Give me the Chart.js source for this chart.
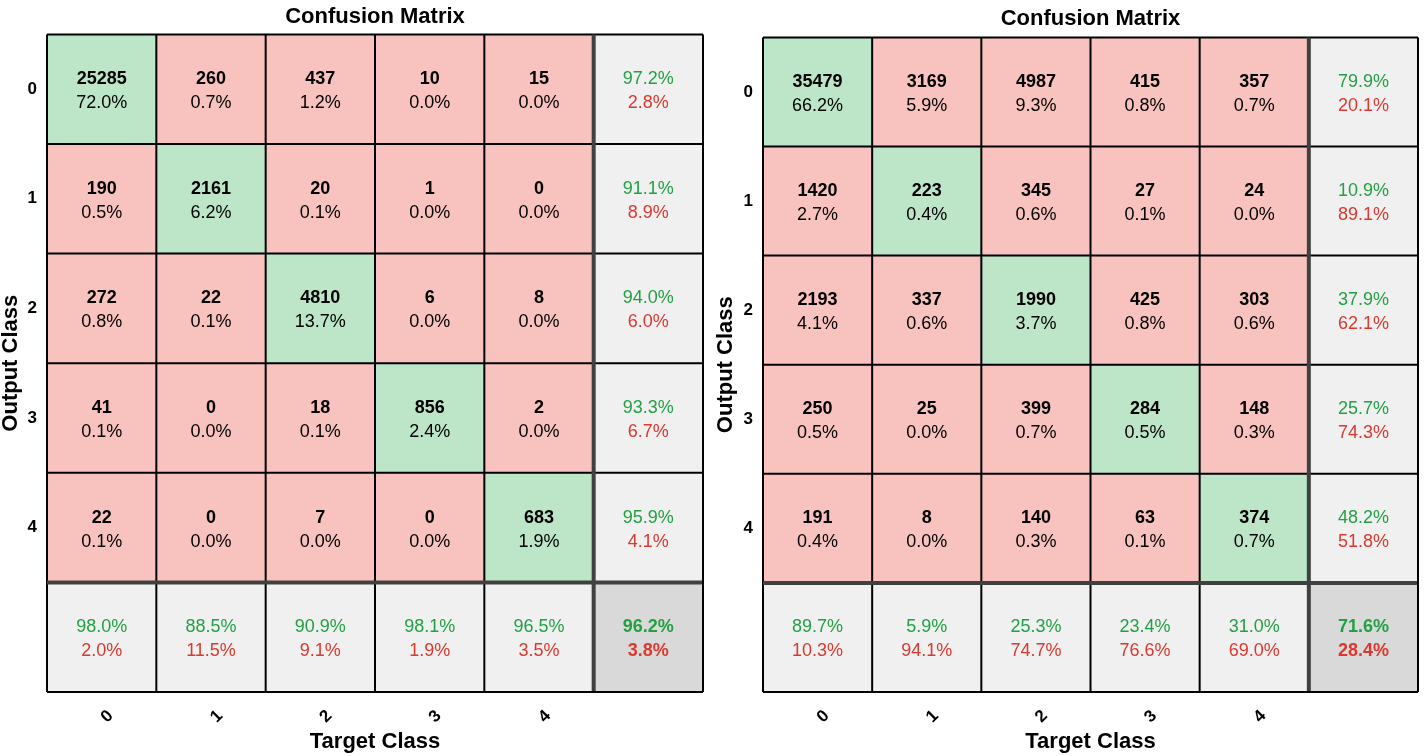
<!DOCTYPE html>
<html>
<head>
<meta charset="utf-8">
<script src="https://cdn.jsdelivr.net/npm/chart.js@4/dist/chart.umd.min.js"></script>
<style>
  body { margin: 0; background: #fff; }
  canvas { position: absolute; top: 0; }
  #left { left: 0; }
  #right { left: 712px; }
</style>
</head>
<body>
<canvas id="left" width="712" height="756"></canvas>
<canvas id="right" width="712" height="756"></canvas>
<script>
'use strict';

// Class names (rows = output class, columns = target class)
var classes = ['0', '1', '2', '3', '4'];

// Counts read from the two matrices:
var leftCounts = [
    [25285, 260, 437, 10, 15],
    [190, 2161, 20, 1, 0],
    [272, 22, 4810, 6, 8],
    [41, 0, 18, 856, 2],
    [22, 0, 7, 0, 683]
];
var rightCounts = [
    [35479, 3169, 4987, 415, 357],
    [1420, 223, 345, 27, 24],
    [2193, 337, 1990, 425, 303],
    [250, 25, 399, 284, 148],
    [191, 8, 140, 63, 374]
];

var FONT = "'Liberation Sans', Arial, sans-serif";
var GREEN_CELL = '#bde5c8';
var RED_CELL = '#f8c3be';
var GRAY_CELL = '#f0f0f0';
var TOTAL_CELL = '#d9d9d9';
var GREEN_TEXT = '#23a043';
var RED_TEXT = '#d9392f';

// Helper to format a fraction as a percent string:
var pct = function pct(a, b) {
    return (a / b * 100).toFixed(1) + '%';
};

// Builds the text shown in each cell (6x6 incl. summary row/column):
var buildCells = function buildCells(counts) {
    var n = counts.length;
    var total = 0, trace = 0;
    var rowSums = [], colSums = [];
    for (var i = 0; i < n; i++) { rowSums.push(0); colSums.push(0); }
    counts.forEach(function (row, r) {
        row.forEach(function (v, c) {
            total += v;
            rowSums[r] += v;
            colSums[c] += v;
            if (r === c) trace += v;
        });
    });
    var cells = [];
    for (var r = 0; r <= n; r++) {
        var line = [];
        for (var c = 0; c <= n; c++) {
            if (r < n && c < n) {
                line.push({ top: String(counts[r][c]), bottom: pct(counts[r][c], total), summary: false });
            } else if (r < n) {
                line.push({ top: pct(counts[r][r], rowSums[r]), bottom: pct(rowSums[r] - counts[r][r], rowSums[r]), summary: true });
            } else if (c < n) {
                line.push({ top: pct(counts[c][c], colSums[c]), bottom: pct(colSums[c] - counts[c][c], colSums[c]), summary: true });
            } else {
                line.push({ top: pct(trace, total), bottom: pct(total - trace, total), summary: true, overall: true });
            }
        }
        cells.push(line);
    }
    return cells;
};

// One floating-bar dataset per row:
var buildDatasets = function buildDatasets(n) {
    var sets = [];
    for (var r = 0; r <= n; r++) {
        var data = [], colors = [];
        for (var c = 0; c <= n; c++) {
            data.push([r, r + 1]);
            if (r < n && c < n) colors.push(r === c ? GREEN_CELL : RED_CELL);
            else if (r < n || c < n) colors.push(GRAY_CELL);
            else colors.push(TOTAL_CELL);
        }
        sets.push({
            data: data,
            backgroundColor: colors,
            borderWidth: 0,
            barPercentage: 1,
            categoryPercentage: 1,
            grouped: false
        });
    }
    return sets;
};

// Plugin drawing the cell text and the grid lines:
var matrixPlugin = {
    id: 'matrixText',
    afterDatasetsDraw: function (chart) {
        var ctx = chart.ctx;
        var cells = chart.options.plugins.matrixText.cells;
        var n = cells.length - 1;
        var yScale = chart.scales.y;
        var area = chart.chartArea;

        ctx.save();
        ctx.textAlign = 'center';
        ctx.textBaseline = 'middle';
        cells.forEach(function (line, r) {
            var meta = chart.getDatasetMeta(r);
            line.forEach(function (cell, c) {
                var el = meta.data[c];
                var cx = el.x;
                var cy = (el.y + el.base) / 2;
                var weight = (cell.summary && !cell.overall) ? '' : 'bold ';
                ctx.font = weight + '18px ' + FONT;
                ctx.fillStyle = cell.summary ? GREEN_TEXT : '#000';
                ctx.fillText(cell.top, cx, cy - 10);
                ctx.font = (cell.overall ? 'bold ' : '') + '18px ' + FONT;
                ctx.fillStyle = cell.summary ? RED_TEXT : '#000';
                ctx.fillText(cell.bottom, cx, cy + 14);
            });
        });

        // Grid lines from bar edges / y scale:
        var meta0 = chart.getDatasetMeta(0);
        var xEdges = meta0.data.map(function (el) { return el.x - el.width / 2; });
        xEdges.push(area.right);
        for (var k = 0; k <= n + 1; k++) {
            var thick = k === n;
            ctx.lineWidth = thick ? 4 : 2;
            ctx.strokeStyle = thick ? '#404040' : '#000';
            ctx.beginPath();
            ctx.moveTo(xEdges[k], area.top);
            ctx.lineTo(xEdges[k], area.bottom);
            ctx.stroke();
            var y = yScale.getPixelForValue(k);
            ctx.beginPath();
            ctx.moveTo(area.left, y);
            ctx.lineTo(area.right, y);
            ctx.stroke();
        }
        ctx.restore();
    }
};

var makeChart = function makeChart(canvasId, counts, layout) {
    var ctx = document.getElementById(canvasId).getContext('2d');
    return new Chart(ctx, {
        type: 'bar',
        data: {
            labels: classes.concat(['']),
            datasets: buildDatasets(counts.length)
        },
        options: {
            responsive: false,
            animation: false,
            events: [],
            layout: { padding: { left: 0, right: layout.right, top: 0, bottom: 0 } },
            plugins: {
                legend: { display: false },
                tooltip: { enabled: false },
                title: {
                    display: true,
                    text: 'Confusion Matrix',
                    fullSize: false,
                    color: '#000',
                    font: { family: FONT, size: 22, weight: 'bold', lineHeight: 1.2 },
                    padding: { top: layout.titleTop, bottom: layout.titleBottom }
                },
                matrixText: { cells: buildCells(counts) }
            },
            scales: {
                x: {
                    type: 'category',
                    offset: true,
                    grid: { display: false, drawTicks: false },
                    border: { display: false },
                    ticks: {
                        minRotation: 45,
                        maxRotation: 45,
                        padding: 14,
                        labelOffset: 9,
                        color: '#000',
                        font: { family: FONT, size: 17, weight: 'bold' }
                    },
                    title: {
                        display: true,
                        text: 'Target Class',
                        color: '#000',
                        font: { family: FONT, size: 22, weight: 'bold', lineHeight: 1 },
                        padding: { top: 0, bottom: 3 }
                    },
                    afterFit: function (scale) { scale.height = 64; }
                },
                y: {
                    type: 'linear',
                    min: 0,
                    max: classes.length + 1,
                    reverse: true,
                    grid: { display: false, drawTicks: false },
                    border: { display: false },
                    afterBuildTicks: function (scale) {
                        scale.ticks = classes.map(function (c, i) { return { value: i + 0.5 }; });
                    },
                    ticks: {
                        padding: 10,
                        color: '#000',
                        font: { family: FONT, size: 17, weight: 'bold' },
                        callback: function (value) { return classes[Math.round(value - 0.5)]; }
                    },
                    title: {
                        display: true,
                        text: 'Output Class',
                        color: '#000',
                        font: { family: FONT, size: 22, weight: 'bold', lineHeight: 1 },
                        padding: { top: layout.yTitle, bottom: 0 }
                    },
                    afterFit: function (scale) { scale.width = layout.yWidth; }
                }
            }
        },
        plugins: [matrixPlugin]
    });
};

makeChart('left', leftCounts, { right: 9, yWidth: 47, titleTop: 4, titleBottom: 4, yTitle: 0 });
makeChart('right', rightCounts, { right: 6, yWidth: 51, titleTop: 6, titleBottom: 5, yTitle: 3 });
</script>
</body>
</html>
